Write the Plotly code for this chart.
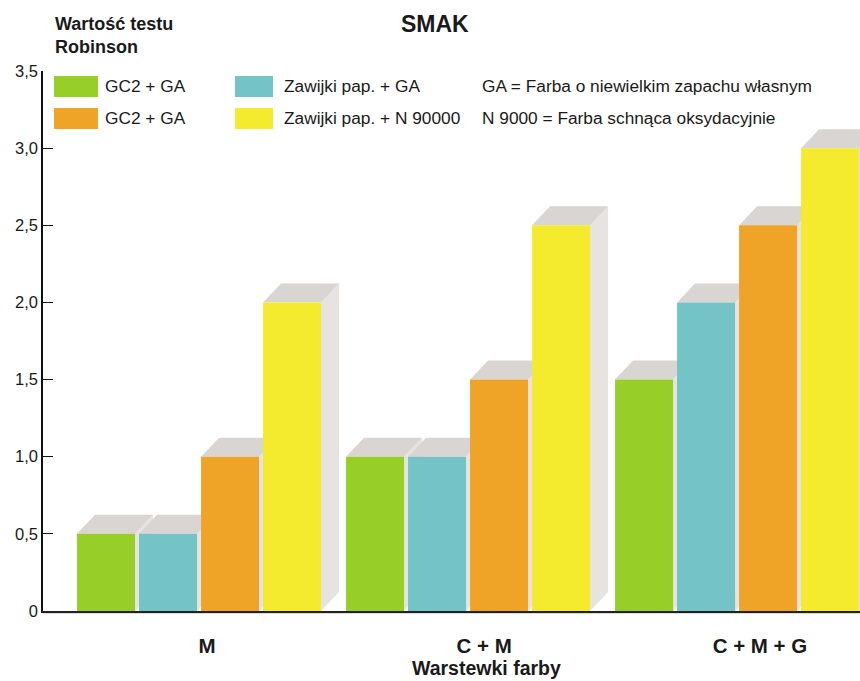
import plotly.graph_objects as go

# ---- data -------------------------------------------------------------
categories = ["M", "C + M", "C + M + G"]
series_names = ["GC2 + GA", "Zawijki pap. + GA", "GC2 + GA", "Zawijki pap. + N 90000"]
series_colors = ["#97ce28", "#74c3c6", "#efa427", "#f4eb2e"]
values = [
    [0.5, 1.0, 1.5],   # GC2 + GA (green)
    [0.5, 1.0, 2.0],   # Zawijki pap. + GA
    [1.0, 1.5, 2.5],   # GC2 + GA (orange)
    [2.0, 2.5, 3.0],   # Zawijki pap. + N 90000
]
notes = ["GA = Farba o niewielkim zapachu własnym",
         "N 9000 = Farba schnąca oksydacyjnie"]
y_tickvals = [0, 0.5, 1.0, 1.5, 2.0, 2.5, 3.0, 3.5]
y_ticktext = ["0", "0,5", "1,0", "1,5", "2,0", "2,5", "3,0", "3,5"]

# ---- geometry ---------------------------------------------------------
W, H = 860, 681
ML, MR, MT, MB = 43, 0, 71, 70
PW, PH = W - ML - MR, H - MT - MB
X_RANGE = [-0.58, 2.457]
Y_RANGE = [0, 3.5]
px_per_x = PW / (X_RANGE[1] - X_RANGE[0])
px_per_y = PH / (Y_RANGE[1] - Y_RANGE[0])

slot = 0.2305          # distance between neighbouring bars in a group
bar_w = 0.2156         # front face width
first_off = -0.4535    # left edge of the first bar relative to group centre
dx = 18 / px_per_x     # 3-D depth, horizontal
dy = 19 / px_per_y     # 3-D depth, vertical
TOP_FACE = "#d8d5d2"
SIDE_FACE = "#e7e3e1"

FONT = "Liberation Sans, Arial, Helvetica, sans-serif"
TXT = "#1a1a1a"


def px(xp):
    return (xp - ML) / PW


def py(yp):
    return (H - MB - yp) / PH


fig = go.Figure()
shapes = []
xs = list(range(len(categories)))

# depth faces (drawn beneath the fronts, left to right)
for g in xs:
    for i, vals in enumerate(values):
        v = vals[g]
        x0 = g + first_off + i * slot
        x1 = x0 + bar_w
        top = f"M {x0},{v} L {x0 + dx},{v + dy} L {x1 + dx},{v + dy} L {x1},{v} Z"
        side = f"M {x1},0 L {x1},{v} L {x1 + dx},{v + dy} L {x1 + dx},{dy} Z"
        shapes.append(dict(type="path", path=side, xref="x", yref="y",
                           fillcolor=SIDE_FACE, line=dict(width=0), layer="below"))
        shapes.append(dict(type="path", path=top, xref="x", yref="y",
                           fillcolor=TOP_FACE, line=dict(width=0), layer="below"))

# front faces
for i, (name, col, vals) in enumerate(zip(series_names, series_colors, values)):
    fig.add_trace(go.Bar(
        x=xs, y=vals, name=name, width=bar_w, offset=first_off + i * slot,
        marker=dict(color=col, line=dict(width=0)), showlegend=False,
    ))

# baseline shadow
shapes.append(dict(type="line", xref="paper", yref="paper", x0=0, x1=1,
                   y0=py(613), y1=py(613), line=dict(color="#dcdcdc", width=2),
                   layer="below"))

# ---- custom legend ----------------------------------------------------
annotations = []
sw_x = [(54, 98), (235, 273)]
txt_x = [103, 282]
row_y = [(76, 97), (108, 129)]
for i, (name, col) in enumerate(zip(series_names, series_colors)):
    c, r = i % 2, i // 2
    (xa, xb), (ya, yb) = sw_x[c], row_y[r]
    shapes.append(dict(type="rect", xref="paper", yref="paper",
                       x0=px(xa), x1=px(xb), y0=py(yb), y1=py(ya),
                       fillcolor=col, line=dict(width=0)))
    annotations.append(dict(text=name, xref="paper", yref="paper",
                            x=px(txt_x[c]), y=py((ya + yb) / 2),
                            xanchor="left", yanchor="middle", showarrow=False,
                            font=dict(family=FONT, size=17.3, color=TXT)))
for r, note in enumerate(notes):
    ya, yb = row_y[r]
    annotations.append(dict(text=note, xref="paper", yref="paper",
                            x=px(480), y=py((ya + yb) / 2),
                            xanchor="left", yanchor="middle", showarrow=False,
                            font=dict(family=FONT, size=17.3, color=TXT)))

# titles
annotations.append(dict(text="<b>SMAK</b>", xref="paper", yref="paper",
                        x=px(435), y=py(24), xanchor="center", yanchor="middle",
                        showarrow=False, font=dict(family=FONT, size=23, color=TXT)))
annotations.append(dict(text="<b>Wartość testu<br>Robinson</b>", xref="paper",
                        yref="paper", x=px(53), y=py(36), xanchor="left",
                        yanchor="middle", align="left", showarrow=False,
                        font=dict(family=FONT, size=18, color=TXT)))
annotations.append(dict(text="<b>Warstewki farby</b>", xref="paper", yref="paper",
                        x=px(486), y=py(668), xanchor="center", yanchor="middle",
                        showarrow=False, font=dict(family=FONT, size=19.5, color=TXT)))

# category labels sit slightly right of the group centres
label_shift = [0.03, 0.06, 0.085]
fig.update_layout(
    width=W, height=H,
    margin=dict(l=ML, r=MR, t=MT, b=MB),
    paper_bgcolor="white", plot_bgcolor="white",
    barmode="overlay",
    showlegend=False,
    separators=", ",
    shapes=shapes,
    annotations=annotations,
    xaxis=dict(range=X_RANGE, showgrid=False, zeroline=False,
               showline=True, linecolor="#222222", linewidth=1.5,
               tickmode="array",
               tickvals=[g + s for g, s in zip(xs, label_shift)],
               ticktext=[f"<b>{c}</b>" for c in categories],
               ticks="", ticklabelstandoff=16,
               tickfont=dict(family=FONT, size=20.5, color=TXT)),
    yaxis=dict(range=Y_RANGE, showgrid=False, zeroline=False,
               showline=True, linecolor="#111111", linewidth=1.5,
               tickmode="array", tickvals=y_tickvals, ticktext=y_ticktext,
               ticks="inside", ticklen=10, tickcolor="#111111", tickwidth=1.2,
               tickfont=dict(family=FONT, size=16.5, color=TXT)),
)

fig.write_html("out.html")
